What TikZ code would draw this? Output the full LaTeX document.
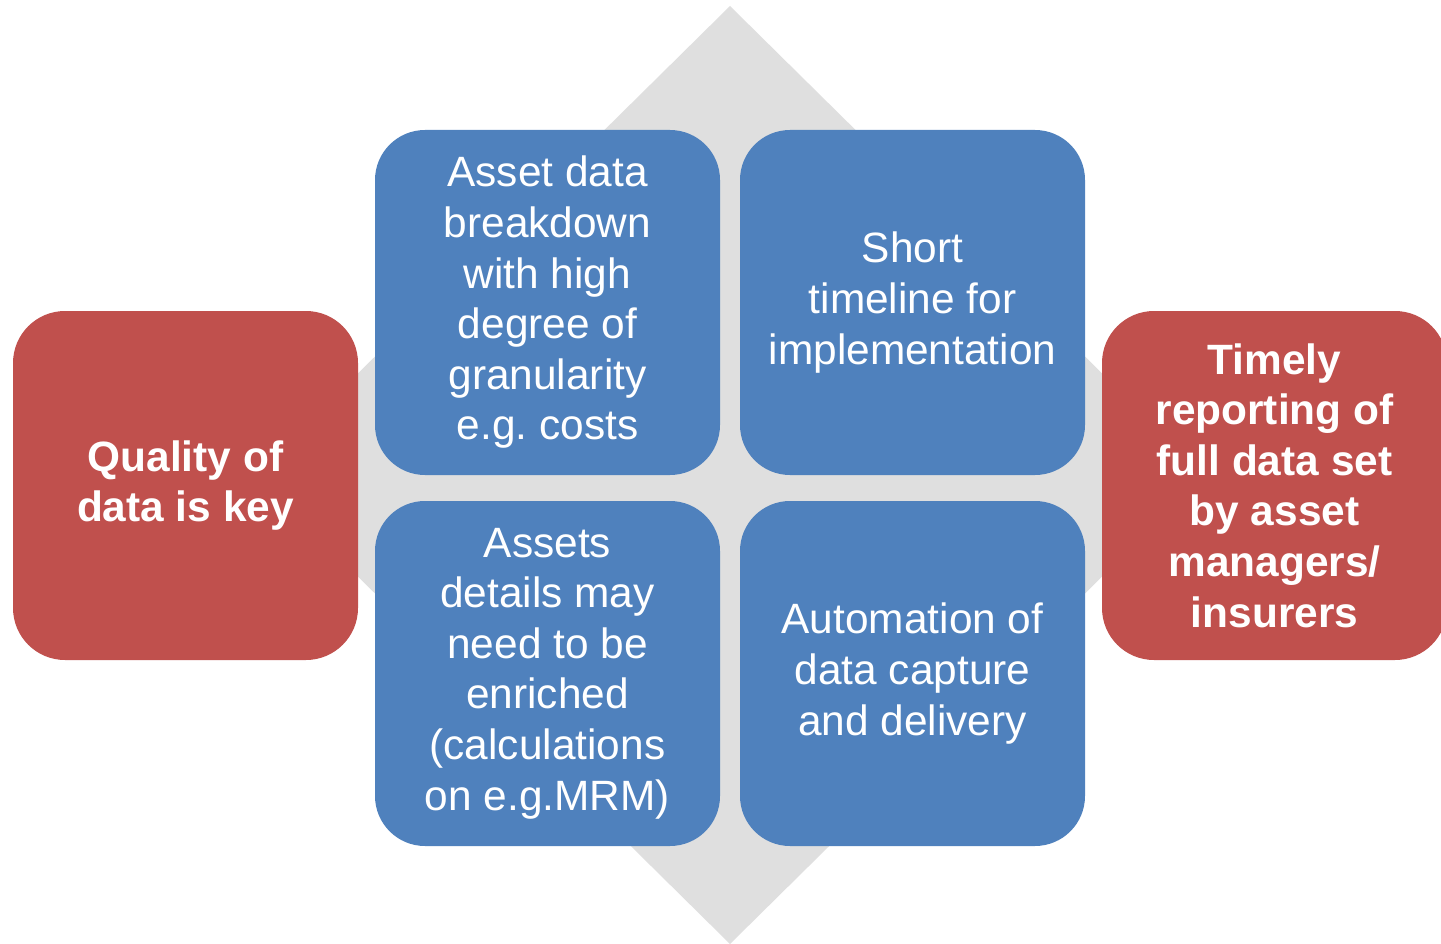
\documentclass[tikz,border=0pt]{standalone}
\usepackage{fontspec}
\setmainfont{Liberation Sans}
\frenchspacing
\definecolor{boxblue}{HTML}{4F81BD}
\definecolor{boxred}{HTML}{C0504D}
\definecolor{diamondgray}{HTML}{DFDFDF}
\begin{document}
\begin{tikzpicture}[x=1pt,y=-1pt,
  card/.style={rounded corners=50pt, minimum width=345pt, minimum height=345pt,
    inner sep=0pt, align=center, text=white, font=\fontsize{42.4}{50.6}\selectfont},
  bluecard/.style={card, fill=boxblue},
  lowcard/.style={bluecard, text depth=8pt},
  redcard/.style={card, fill=boxred, minimum height=349pt, rounded corners=52pt,
    font=\bfseries\fontsize{42.4}{50.6}\selectfont}]
\useasboundingbox (0,0) rectangle (1441,944);
% grey diamond behind the cards
\fill[diamondgray] (730,6) -- (1205,475) -- (730,944) -- (255,475) -- cycle;
% central 2x2 grid
\node[bluecard] (q1) at (547.5,302.5) {Asset data\\breakdown\\with high\\degree of\\granularity\\e.g. costs};
\node[bluecard] (q2) at (912.5,302.5) {Short\\timeline for\\implementation};
\node[bluecard] (q3) at (547.5,673.5) {Assets\\details may\\need to be\\enriched\\(calculations\\on e.g.MRM)};
\node[bluecard] (q4) at (912.5,673.5) {Automation of\\data capture\\and delivery};
% side cards
\node[redcard] (left) at (185.5,485.5) {Quality of\\data is key};
\node[redcard] (right) at (1274.5,485.5) {Timely\\reporting of\\full data set\\by asset\\managers/\\insurers};
\end{tikzpicture}
\end{document}
